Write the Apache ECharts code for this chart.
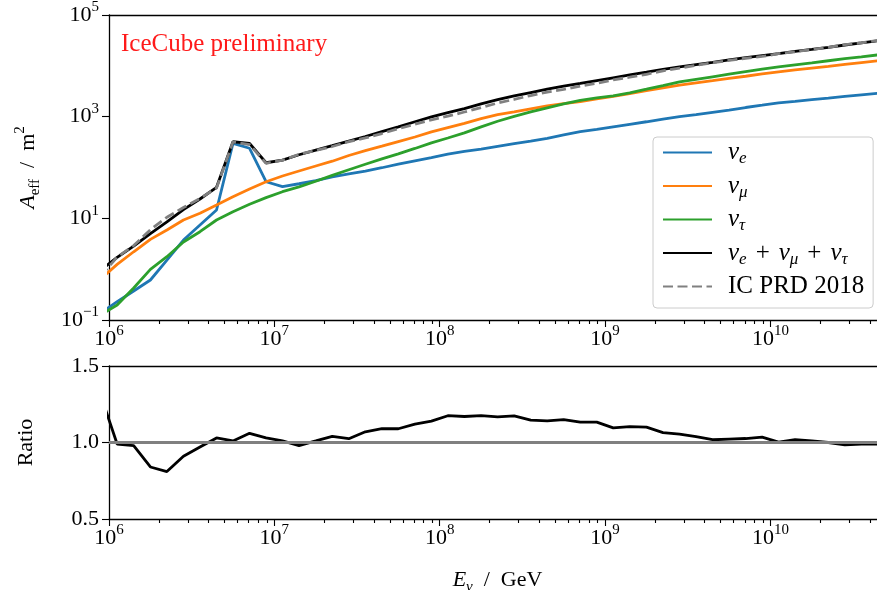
<!DOCTYPE html>
<html>
<head>
<meta charset="utf-8">
<script src="https://cdn.jsdelivr.net/npm/echarts@6/dist/echarts.min.js"></script>
<style>
  html, body { margin: 0; padding: 0; background: #fff; }
  #chart { width: 877px; height: 590px; }
</style>
</head>
<body>
<div id="chart"></div>
<script>
// neutrino energy in GeV (bin centres, 10 per decade)
const energy = [
  8.91e5,
  1.12e6, 1.41e6, 1.78e6, 2.24e6, 2.82e6, 3.55e6, 4.47e6, 5.62e6, 7.08e6, 8.91e6,
  1.12e7, 1.41e7, 1.78e7, 2.24e7, 2.82e7, 3.55e7, 4.47e7, 5.62e7, 7.08e7, 8.91e7,
  1.12e8, 1.41e8, 1.78e8, 2.24e8, 2.82e8, 3.55e8, 4.47e8, 5.62e8, 7.08e8, 8.91e8,
  1.12e9, 1.41e9, 1.78e9, 2.24e9, 2.82e9, 3.55e9, 4.47e9, 5.62e9, 7.08e9, 8.91e9,
  1.12e10, 1.41e10, 1.78e10, 2.24e10, 2.82e10, 3.55e10, 4.47e10
]

// effective area in m^2
const aeffNuE = [
  0.138, 0.229, 0.372, 0.612, 1.51, 3.74, 7.40, 14.6, 299, 239,
  52.5, 41.9, 47.9, 55.0, 65.3, 75.0, 85.1, 98.9, 116, 135,
  157, 184, 207, 229, 260, 295, 331, 376, 437, 507,
  562, 631, 708, 794, 891, 1000, 1096, 1216, 1349, 1514,
  1679, 1862, 1995, 2163, 2317, 2512, 2692, 2884
]
const aeffNuMu = [
  0.646, 1.24, 2.20, 3.86, 5.89, 9.27, 12.6, 18.3, 26.6, 37.8,
  52.5, 68.1, 85.3, 107, 133, 172, 214, 263, 324, 398,
  501, 610, 741, 912, 1096, 1245, 1429, 1622, 1799, 1972,
  2239, 2512, 2851, 3236, 3673, 4169, 4624, 5129, 5689, 6237,
  6918, 7586, 8318, 9016, 9772, 10715, 11614, 12589
]
const aeffNuTau = [
  0.126, 0.197, 0.426, 0.993, 1.76, 3.42, 5.46, 9.27, 13.5, 18.9,
  25.5, 33.4, 41.7, 53.7, 70.0, 90.2, 116, 148, 186, 237,
  306, 380, 479, 631, 813, 1012, 1245, 1496, 1778, 2089,
  2344, 2570, 2951, 3467, 4074, 4842, 5433, 6095, 6839, 7674,
  8610, 9550, 10471, 11482, 12589, 13804, 14962, 16406
]
const aeffSum = [
  0.955, 1.71, 2.85, 5.01, 8.51, 14.8, 24.0, 40.7, 321, 299,
  124, 140, 178, 219, 269, 331, 407, 507, 631, 794,
  989, 1202, 1445, 1778, 2163, 2570, 2985, 3467, 3981, 4519,
  5129, 5821, 6607, 7499, 8511, 9550, 10593, 11749, 13032, 14454,
  15849, 17378, 19275, 21135, 23174, 25704, 28184, 31261
]
const aeffPrd2018 = [
  0.730, 1.73, 2.91, 5.97, 10.5, 16.3, 24.7, 39.6, 318, 283,
  121, 139, 182, 217, 259, 323, 381, 466, 579, 710,
  867, 1023, 1236, 1514, 1853, 2188, 2606, 3041, 3459, 3990,
  4529, 5309, 5984, 6823, 7998, 9057, 10186, 11535, 12764, 14093,
  15311, 17338, 18923, 20893, 23174, 26122, 28445, 31550
]
// sum / IC PRD 2018
const ratio = [
  1.31, 0.99, 0.98, 0.84, 0.81, 0.91, 0.97, 1.03, 1.01, 1.06,
  1.03, 1.01, 0.98, 1.01, 1.04, 1.025, 1.07, 1.09, 1.09, 1.12,
  1.14, 1.175, 1.17, 1.175, 1.168, 1.174, 1.146, 1.141, 1.15, 1.133,
  1.133, 1.096, 1.104, 1.10, 1.065, 1.055, 1.039, 1.018, 1.022, 1.026,
  1.035, 1.003, 1.018, 1.011, 1.0, 0.985, 0.99, 0.99
]

// ticks (decade exponents)
const xMajorExp = [6, 7, 8, 9, 10]
const xMinorMult = [2, 3, 4, 5, 6, 7, 8, 9]
const yMajorExp = [-1, 1, 3, 5]
const ratioTicks = [0.5, 1.0, 1.5]

const X_MIN = 6
const X_MAX = Math.log10(5e10)
const xMinorTicks = []
xMajorExp.forEach(e => xMinorMult.forEach(m => {
  const v = e + Math.log10(m)
  if (v < X_MAX) xMinorTicks.push(v)
}))

const FONT = 'Liberation Serif'
const rich = {
  b: { fontFamily: FONT, fontSize: 22, lineHeight: 30, verticalAlign: 'middle', color: '#000' },
  i: { fontFamily: FONT, fontSize: 22, lineHeight: 30, verticalAlign: 'middle', fontStyle: 'italic', color: '#000' },
  sup: { fontFamily: FONT, fontSize: 15, verticalAlign: 'top', color: '#000' },
  sub: { fontFamily: FONT, fontSize: 15, verticalAlign: 'bottom', color: '#000' },
  subi: { fontFamily: FONT, fontSize: 15, verticalAlign: 'bottom', fontStyle: 'italic', color: '#000' }
}
// legend text is a little larger (wide TeX font in the original)
const legendRich = {
  b: { fontFamily: FONT, fontSize: 25, lineHeight: 30, verticalAlign: 'middle', color: '#000' },
  i: { fontFamily: FONT, fontSize: 25, lineHeight: 30, verticalAlign: 'middle', fontStyle: 'italic', color: '#000' },
  pl: { fontFamily: FONT, fontSize: 25, lineHeight: 30, verticalAlign: 'middle', color: '#000', padding: [0, 9, 0, 9] },
  subi: { fontFamily: FONT, fontSize: 17, verticalAlign: 'bottom', fontStyle: 'italic', color: '#000' },
  gap: { width: 11 }
}

const pow10 = v => {
  const n = Math.round(v)
  return '{b|10}{sup|' + (n < 0 ? '\u2212' + (-n) : n) + '}'
}
const toXY = vals => energy.map((e, i) => [Math.log10(e), Math.log10(vals[i])])

const legendLabels = {
  'nu_e': '{gap|}{i|\u03bd}{subi|e}',
  'nu_mu': '{gap|}{i|\u03bd}{subi|\u03bc}',
  'nu_tau': '{gap|}{i|\u03bd}{subi|\u03c4}',
  'sum': '{gap|}{i|\u03bd}{subi|e}{pl|+}{i|\u03bd}{subi|\u03bc}{pl|+}{i|\u03bd}{subi|\u03c4}',
  'IC PRD 2018': '{gap|}{b|IC PRD 2018}'
}

const axisLineStyle = { color: '#000', width: 1.3 }
const tickStyle = { color: '#000', width: 1.1 }

function xAxes(gridIndex, withName) {
  const base = { type: 'value', gridIndex, min: X_MIN, max: X_MAX, splitLine: { show: false } }
  return [
    Object.assign({}, base, {
      position: 'bottom',
      axisLine: { show: true, onZero: false, lineStyle: axisLineStyle },
      axisTick: { show: true, length: 7, customValues: xMajorExp, lineStyle: tickStyle },
      axisLabel: { show: true, customValues: xMajorExp, formatter: pow10, rich, margin: 4 },
      name: withName ? '{i|E}{subi|\u03bd}{b|  /  GeV}' : '',
      nameLocation: 'middle',
      nameGap: 46,
      nameTextStyle: { rich }
    }),
    Object.assign({}, base, {
      position: 'bottom',
      axisLine: { show: false, onZero: false },
      axisTick: { show: true, length: 4, customValues: xMinorTicks, lineStyle: tickStyle },
      axisLabel: { show: false }
    }),
    Object.assign({}, base, {
      position: 'top',
      axisLine: { show: true, onZero: false, lineStyle: axisLineStyle },
      axisTick: { show: false },
      axisLabel: { show: false }
    })
  ]
}

function lineSeries(name, vals, color, dashed) {
  return {
    name,
    type: 'line',
    xAxisIndex: 0,
    yAxisIndex: 0,
    data: toXY(vals),
    showSymbol: false,
    symbol: 'none',
    lineStyle: { color, width: 2.8, type: dashed ? [10, 4.5] : 'solid', cap: 'butt' },
    itemStyle: { color }
  }
}

const chart = echarts.init(document.getElementById('chart'))

chart.setOption({
  animation: false,
  backgroundColor: '#fff',
  title: {
    text: 'IceCube preliminary',
    left: 116,
    top: 27,
    textStyle: { fontFamily: FONT, fontSize: 25, fontWeight: 'normal', color: '#ff1a1a' }
  },
  // the right spine of the original lies just past the picture edge
  grid: [
    { left: 109, top: 15, width: 777, height: 305, containLabel: false, outerBoundsMode: 'none' },
    { left: 109, top: 366, width: 777, height: 153, containLabel: false, outerBoundsMode: 'none' }
  ],
  legend: {
    orient: 'vertical',
    left: 653,
    top: 137,
    padding: [3, 9, 9, 9],
    itemWidth: 49,
    itemHeight: 14,
    itemGap: 6,
    itemStyle: { opacity: 0, borderWidth: 0 },
    backgroundColor: 'rgba(255,255,255,0.8)',
    borderColor: '#cccccc',
    borderWidth: 1,
    borderRadius: 4,
    formatter: name => legendLabels[name],
    textStyle: { rich: legendRich },
    data: ['nu_e', 'nu_mu', 'nu_tau', 'sum', 'IC PRD 2018']
  },
  xAxis: xAxes(0, false).concat(xAxes(1, true)),
  yAxis: [
    {
      type: 'value',
      gridIndex: 0,
      min: -1,
      max: 5,
      splitLine: { show: false },
      axisLine: { show: true, onZero: false, lineStyle: axisLineStyle },
      axisTick: { show: true, length: 7, customValues: yMajorExp, lineStyle: tickStyle },
      axisLabel: { customValues: yMajorExp, formatter: pow10, rich, margin: 10 },
      name: '{i|A}{sub|eff}{b|  /  m}{sup|2}',
      nameLocation: 'middle',
      nameRotate: 90,
      nameGap: 66,
      nameTextStyle: { rich }
    },
    {
      type: 'value',
      gridIndex: 1,
      min: 0.5,
      max: 1.5,
      splitLine: { show: false },
      axisLine: { show: true, onZero: false, lineStyle: axisLineStyle },
      axisTick: { show: true, length: 7, customValues: ratioTicks, lineStyle: tickStyle },
      axisLabel: {
        customValues: ratioTicks,
        formatter: v => v.toFixed(1),
        fontFamily: FONT,
        fontSize: 22,
        color: '#000',
        margin: 10
      },
      name: 'Ratio',
      nameLocation: 'middle',
      nameRotate: 90,
      nameGap: 72,
      nameTextStyle: { fontFamily: FONT, fontSize: 22, color: '#000' }
    }
  ],
  series: [
    lineSeries('nu_e', aeffNuE, '#1f77b4'),
    lineSeries('nu_mu', aeffNuMu, '#ff7f0e'),
    lineSeries('nu_tau', aeffNuTau, '#2ca02c'),
    lineSeries('sum', aeffSum, '#000000'),
    lineSeries('IC PRD 2018', aeffPrd2018, '#808080', true),
    {
      name: 'ratio',
      type: 'line',
      xAxisIndex: 3,
      yAxisIndex: 1,
      data: energy.map((e, i) => [Math.log10(e), ratio[i]]),
      showSymbol: false,
      symbol: 'none',
      lineStyle: { color: '#000', width: 2.8 },
      markLine: {
        silent: true,
        symbol: 'none',
        label: { show: false },
        lineStyle: { color: '#808080', width: 3, type: 'solid' },
        data: [{ yAxis: 1 }]
      }
    }
  ]
})

window.addEventListener('resize', () => chart.resize())
</script>
</body>
</html>
